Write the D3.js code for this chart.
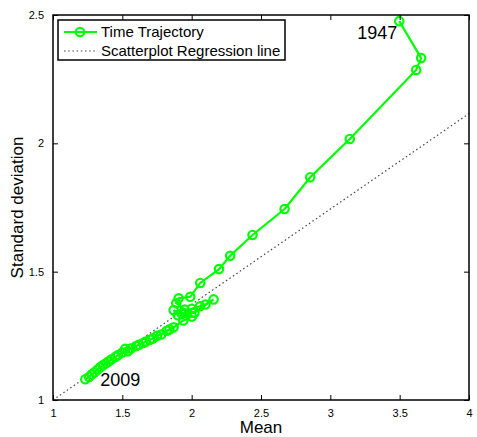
<!DOCTYPE html>
<html>
<head>
<meta charset="utf-8">
<script src="https://cdn.jsdelivr.net/npm/d3@7"></script>
<style>
  body { margin: 0; background: #fff; }
  svg { font-family: "Liberation Sans", Arial, sans-serif; }
</style>
</head>
<body>
<div id="chart"></div>
<script>
// trajectory, 1947 -> 2009 (mean, std dev)
var meanVals = [3.497, 3.655, 3.619, 3.140, 2.855, 2.670, 2.439, 2.278, 2.197, 2.062, 1.990, 1.906,
  1.889, 1.950, 2.020, 2.158, 2.100, 2.060, 2.000, 1.930, 1.870, 1.900, 2.002, 1.940, 1.870, 1.820,
  1.840, 1.780, 1.750, 1.720, 1.700, 1.670, 1.650, 1.620, 1.600, 1.560, 1.520, 1.540, 1.500, 1.470,
  1.450, 1.420, 1.400, 1.380, 1.360, 1.340, 1.320, 1.300, 1.280, 1.260, 1.233];
var sdVals = [2.476, 2.332, 2.286, 2.017, 1.868, 1.744, 1.643, 1.562, 1.510, 1.456, 1.402, 1.396,
  1.377, 1.352, 1.340, 1.392, 1.372, 1.365, 1.355, 1.335, 1.350, 1.330, 1.325, 1.310, 1.283, 1.270,
  1.275, 1.255, 1.250, 1.240, 1.235, 1.228, 1.222, 1.215, 1.210, 1.200, 1.199, 1.190, 1.185, 1.175,
  1.168, 1.158, 1.150, 1.142, 1.135, 1.128, 1.118, 1.108, 1.100, 1.090, 1.081];

// regression line endpoints
var regX = [1, 4];
var regY = [1.0, 2.116];

var xTicks = [1, 1.5, 2, 2.5, 3, 3.5, 4];
var yTicks = [1, 1.5, 2, 2.5];
var legendLabels = ["Time Trajectory", "Scatterplot Regression line"];

var W = 477, H = 437;
var margin = {top: 15, right: 8, bottom: 37, left: 53};
var width = W - margin.left - margin.right,
    height = H - margin.top - margin.bottom;

var svg = d3.select("#chart").append("svg")
    .attr("width", W)
    .attr("height", H);

var g = svg.append("g")
    .attr("transform", "translate(" + margin.left + "," + margin.top + ")");

var x = d3.scaleLinear().domain([1, 4]).range([0, width]);
var y = d3.scaleLinear().domain([1, 2.5]).range([height, 0]);

var data = meanVals.map(function(m, i) { return {x: m, y: sdVals[i]}; });

// regression line
var reg = regX.map(function(v, i) { return {x: v, y: regY[i]}; });
g.append("path")
  .datum(reg)
  .attr("fill", "none")
  .attr("stroke", "#444")
  .attr("stroke-width", 1.2)
  .attr("stroke-dasharray", "1.5,2.7")
  .attr("d", d3.line().x(function(d) { return x(d.x); }).y(function(d) { return y(d.y); }));

// trajectory
g.append("path")
  .datum(data)
  .attr("fill", "none")
  .attr("stroke", "#00ff00")
  .attr("stroke-width", 2.2)
  .attr("d", d3.line().x(function(d) { return x(d.x); }).y(function(d) { return y(d.y); }));

g.selectAll("circle.pt")
  .data(data)
  .enter().append("circle")
    .attr("class", "pt")
    .attr("cx", function(d) { return x(d.x); })
    .attr("cy", function(d) { return y(d.y); })
    .attr("r", 4.2)
    .attr("fill", "none")
    .attr("stroke", "#00ff00")
    .attr("stroke-width", 2.2);

// year labels
g.append("text")
  .attr("x", x(meanVals[0]) - 2)
  .attr("y", y(sdVals[0]) + 18)
  .attr("text-anchor", "end")
  .attr("font-size", 18)
  .text("1947");
g.append("text")
  .attr("x", x(meanVals[meanVals.length - 1]) + 15)
  .attr("y", y(sdVals[sdVals.length - 1]) + 7)
  .attr("font-size", 18)
  .text("2009");

// axes, ticks inward on all sides
function styleAxis(sel) {
  sel.select(".domain").remove();
  sel.selectAll("line").attr("stroke", "#000");
  sel.selectAll("text").attr("font-size", 11).attr("fill", "#000");
}
g.append("g")
  .attr("transform", "translate(0," + height + ")")
  .call(d3.axisBottom(x).tickValues(xTicks).tickSizeInner(-5).tickSizeOuter(0).tickPadding(9)
    .tickFormat(d3.format("")))
  .call(styleAxis);
g.append("g")
  .call(d3.axisTop(x).tickValues(xTicks).tickSizeInner(-5).tickSizeOuter(0).tickFormat(""))
  .call(styleAxis);
g.append("g")
  .call(d3.axisLeft(y).tickValues(yTicks).tickSizeInner(-5).tickSizeOuter(0).tickPadding(9)
    .tickFormat(d3.format("")))
  .call(styleAxis);
g.append("g")
  .attr("transform", "translate(" + width + ",0)")
  .call(d3.axisRight(y).tickValues(yTicks).tickSizeInner(-5).tickSizeOuter(0).tickFormat(""))
  .call(styleAxis);

g.append("rect")
  .attr("width", width).attr("height", height)
  .attr("fill", "none").attr("stroke", "#000").attr("stroke-width", 1.5);

// axis titles
svg.append("text")
  .attr("x", margin.left + width / 2)
  .attr("y", 433)
  .attr("text-anchor", "middle")
  .attr("font-size", 17)
  .text("Mean");
svg.append("text")
  .attr("transform", "translate(23," + (margin.top + height / 2) + ") rotate(-90)")
  .attr("text-anchor", "middle")
  .attr("font-size", 17)
  .text("Standard deviation");

// legend
var lg = svg.append("g").attr("transform", "translate(58,20)");
lg.append("rect")
  .attr("width", 227).attr("height", 40)
  .attr("fill", "#fff").attr("stroke", "#000").attr("stroke-width", 1.5);
lg.append("line")
  .attr("x1", 6).attr("x2", 39).attr("y1", 12).attr("y2", 12)
  .attr("stroke", "#00ff00").attr("stroke-width", 2.2);
lg.append("circle")
  .attr("cx", 22).attr("cy", 12).attr("r", 4.2)
  .attr("fill", "none").attr("stroke", "#00ff00").attr("stroke-width", 2.2);
lg.append("line")
  .attr("x1", 6).attr("x2", 39).attr("y1", 31).attr("y2", 31)
  .attr("stroke", "#444").attr("stroke-width", 1.2).attr("stroke-dasharray", "1.5,2.7");
lg.selectAll("text.leg")
  .data(legendLabels)
  .enter().append("text")
    .attr("class", "leg")
    .attr("x", 43)
    .attr("y", function(d, i) { return 17 + i * 19; })
    .attr("font-size", 15)
    .text(function(d) { return d; });
</script>
</body>
</html>
